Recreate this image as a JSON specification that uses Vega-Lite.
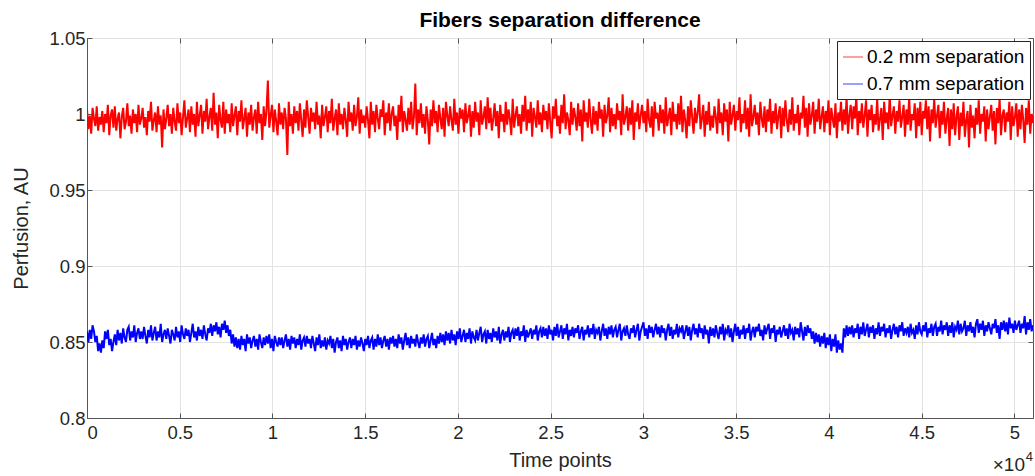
{
"$schema": "https://vega.github.io/schema/vega-lite/v6.json",
"width": 946,
"height": 380,
"autosize": "none",
"padding": {"left": 87, "top": 38, "right": 2, "bottom": 58},
"background": "white",
"config": {
  "view": {"stroke": "#555555", "strokeWidth": 1},
  "font": "Liberation Sans"
},
"title": {"text": "Fibers separation difference", "fontSize": 21, "fontWeight": "bold", "color": "#000000", "font": "Liberation Sans", "anchor": "middle", "baseline": "alphabetic", "offset": -19},
"datasets": {
"series": [
{"t":0,"r":1.003,"b":0.857},{"t":75,"r":0.990,"b":0.850},{"t":150,"r":0.999,"b":0.858},{"t":225,"r":0.987,"b":0.852},{"t":300,"r":1.004,"b":0.861},{"t":375,"r":0.997,"b":0.857},{"t":450,"r":0.992,"b":0.850},{"t":525,"r":1.005,"b":0.854},{"t":600,"r":0.989,"b":0.844},{"t":675,"r":0.998,"b":0.849},
{"t":750,"r":0.993,"b":0.843},{"t":825,"r":1.002,"b":0.851},{"t":900,"r":0.988,"b":0.846},{"t":975,"r":1.000,"b":0.857},{"t":1050,"r":0.994,"b":0.852},{"t":1125,"r":1.006,"b":0.858},{"t":1200,"r":0.986,"b":0.848},{"t":1275,"r":0.999,"b":0.852},{"t":1350,"r":1.003,"b":0.844},{"t":1425,"r":0.991,"b":0.850},
{"t":1500,"r":1.005,"b":0.855},{"t":1575,"r":0.989,"b":0.848},{"t":1650,"r":0.997,"b":0.858},{"t":1725,"r":1.001,"b":0.851},{"t":1800,"r":0.984,"b":0.856},{"t":1875,"r":0.998,"b":0.849},{"t":1950,"r":1.004,"b":0.859},{"t":2025,"r":0.990,"b":0.853},{"t":2100,"r":0.995,"b":0.850},{"t":2175,"r":1.007,"b":0.858},
{"t":2250,"r":0.992,"b":0.860},{"t":2325,"r":0.999,"b":0.851},{"t":2400,"r":0.987,"b":0.857},{"t":2475,"r":1.003,"b":0.853},{"t":2550,"r":0.994,"b":0.861},{"t":2625,"r":1.000,"b":0.850},{"t":2700,"r":0.988,"b":0.856},{"t":2775,"r":1.006,"b":0.859},{"t":2850,"r":0.993,"b":0.852},{"t":2925,"r":0.997,"b":0.857},
{"t":3000,"r":1.004,"b":0.852},{"t":3075,"r":0.991,"b":0.860},{"t":3150,"r":0.998,"b":0.854},{"t":3225,"r":0.986,"b":0.849},{"t":3300,"r":1.002,"b":0.858},{"t":3375,"r":0.995,"b":0.853},{"t":3450,"r":1.008,"b":0.861},{"t":3525,"r":0.989,"b":0.851},{"t":3600,"r":0.996,"b":0.856},{"t":3675,"r":1.001,"b":0.860},
{"t":3750,"r":0.988,"b":0.851},{"t":3825,"r":1.005,"b":0.857},{"t":3900,"r":0.993,"b":0.853},{"t":3975,"r":0.999,"b":0.862},{"t":4050,"r":0.978,"b":0.850},{"t":4125,"r":1.003,"b":0.855},{"t":4200,"r":0.990,"b":0.858},{"t":4275,"r":0.997,"b":0.852},{"t":4350,"r":1.006,"b":0.859},{"t":4425,"r":0.992,"b":0.854},
{"t":4500,"r":1.000,"b":0.849},{"t":4575,"r":0.987,"b":0.858},{"t":4650,"r":1.004,"b":0.855},{"t":4725,"r":0.995,"b":0.851},{"t":4800,"r":0.989,"b":0.860},{"t":4875,"r":1.007,"b":0.853},{"t":4950,"r":0.994,"b":0.857},{"t":5025,"r":1.001,"b":0.850},{"t":5100,"r":0.986,"b":0.861},{"t":5175,"r":0.998,"b":0.855},
{"t":5250,"r":1.009,"b":0.852},{"t":5325,"r":0.991,"b":0.859},{"t":5400,"r":0.997,"b":0.854},{"t":5475,"r":1.003,"b":0.858},{"t":5550,"r":0.988,"b":0.850},{"t":5625,"r":1.005,"b":0.856},{"t":5700,"r":0.993,"b":0.862},{"t":5775,"r":1.000,"b":0.853},{"t":5850,"r":0.985,"b":0.857},{"t":5925,"r":1.008,"b":0.851},
{"t":6000,"r":0.992,"b":0.860},{"t":6075,"r":0.999,"b":0.854},{"t":6150,"r":1.006,"b":0.858},{"t":6225,"r":0.987,"b":0.852},{"t":6300,"r":1.002,"b":0.861},{"t":6375,"r":0.995,"b":0.855},{"t":6450,"r":1.010,"b":0.851},{"t":6525,"r":0.990,"b":0.859},{"t":6600,"r":0.998,"b":0.856},{"t":6675,"r":1.004,"b":0.862},
{"t":6750,"r":0.989,"b":0.854},{"t":6825,"r":1.014,"b":0.861},{"t":6900,"r":0.993,"b":0.857},{"t":6975,"r":1.001,"b":0.863},{"t":7050,"r":0.984,"b":0.855},{"t":7125,"r":1.006,"b":0.860},{"t":7200,"r":0.996,"b":0.853},{"t":7275,"r":0.991,"b":0.862},{"t":7350,"r":1.008,"b":0.858},{"t":7425,"r":0.987,"b":0.864},
{"t":7500,"r":1.003,"b":0.856},{"t":7575,"r":0.994,"b":0.861},{"t":7650,"r":1.000,"b":0.854},{"t":7725,"r":0.988,"b":0.858},{"t":7800,"r":1.007,"b":0.849},{"t":7875,"r":0.992,"b":0.855},{"t":7950,"r":0.999,"b":0.847},{"t":8025,"r":1.005,"b":0.853},{"t":8100,"r":0.986,"b":0.846},{"t":8175,"r":1.002,"b":0.852},
{"t":8250,"r":0.995,"b":0.845},{"t":8325,"r":1.009,"b":0.854},{"t":8400,"r":0.990,"b":0.848},{"t":8475,"r":0.997,"b":0.852},{"t":8550,"r":1.004,"b":0.844},{"t":8625,"r":0.985,"b":0.855},{"t":8700,"r":1.001,"b":0.849},{"t":8775,"r":0.993,"b":0.853},{"t":8850,"r":1.006,"b":0.846},{"t":8925,"r":0.989,"b":0.851},
{"t":9000,"r":0.998,"b":0.854},{"t":9075,"r":1.003,"b":0.847},{"t":9150,"r":0.987,"b":0.852},{"t":9225,"r":1.008,"b":0.845},{"t":9300,"r":0.994,"b":0.855},{"t":9375,"r":1.000,"b":0.850},{"t":9450,"r":0.983,"b":0.846},{"t":9525,"r":1.005,"b":0.853},{"t":9600,"r":0.992,"b":0.848},{"t":9675,"r":1.002,"b":0.854},
{"t":9750,"r":1.022,"b":0.849},{"t":9825,"r":0.991,"b":0.855},{"t":9900,"r":0.999,"b":0.846},{"t":9975,"r":1.006,"b":0.852},{"t":10050,"r":0.988,"b":0.844},{"t":10125,"r":1.003,"b":0.854},{"t":10200,"r":0.995,"b":0.850},{"t":10275,"r":0.986,"b":0.847},{"t":10350,"r":1.007,"b":0.853},{"t":10425,"r":0.993,"b":0.848},
{"t":10500,"r":1.001,"b":0.853},{"t":10575,"r":0.990,"b":0.846},{"t":10650,"r":1.004,"b":0.851},{"t":10725,"r":0.997,"b":0.855},{"t":10800,"r":0.973,"b":0.847},{"t":10875,"r":1.008,"b":0.852},{"t":10950,"r":0.992,"b":0.845},{"t":11025,"r":1.000,"b":0.854},{"t":11100,"r":0.987,"b":0.849},{"t":11175,"r":1.005,"b":0.853},
{"t":11250,"r":0.994,"b":0.846},{"t":11325,"r":1.002,"b":0.852},{"t":11400,"r":0.989,"b":0.848},{"t":11475,"r":1.007,"b":0.855},{"t":11550,"r":0.996,"b":0.845},{"t":11625,"r":0.985,"b":0.851},{"t":11700,"r":1.003,"b":0.853},{"t":11775,"r":0.991,"b":0.847},{"t":11850,"r":1.009,"b":0.854},{"t":11925,"r":0.998,"b":0.849},
{"t":12000,"r":0.987,"b":0.852},{"t":12075,"r":1.004,"b":0.846},{"t":12150,"r":0.995,"b":0.854},{"t":12225,"r":1.001,"b":0.849},{"t":12300,"r":0.990,"b":0.844},{"t":12375,"r":1.008,"b":0.853},{"t":12450,"r":0.993,"b":0.848},{"t":12525,"r":0.999,"b":0.855},{"t":12600,"r":0.984,"b":0.846},{"t":12675,"r":1.006,"b":0.851},
{"t":12750,"r":0.992,"b":0.847},{"t":12825,"r":0.998,"b":0.853},{"t":12900,"r":1.005,"b":0.845},{"t":12975,"r":0.988,"b":0.851},{"t":13050,"r":1.002,"b":0.849},{"t":13125,"r":0.994,"b":0.854},{"t":13200,"r":1.010,"b":0.846},{"t":13275,"r":0.989,"b":0.852},{"t":13350,"r":0.997,"b":0.843},{"t":13425,"r":1.003,"b":0.850},
{"t":13500,"r":0.986,"b":0.853},{"t":13575,"r":1.007,"b":0.846},{"t":13650,"r":0.993,"b":0.851},{"t":13725,"r":1.000,"b":0.844},{"t":13800,"r":0.990,"b":0.854},{"t":13875,"r":1.004,"b":0.848},{"t":13950,"r":0.996,"b":0.852},{"t":14025,"r":0.985,"b":0.845},{"t":14100,"r":1.008,"b":0.850},{"t":14175,"r":0.995,"b":0.853},
{"t":14250,"r":1.001,"b":0.846},{"t":14325,"r":0.989,"b":0.852},{"t":14400,"r":1.006,"b":0.848},{"t":14475,"r":0.992,"b":0.854},{"t":14550,"r":0.998,"b":0.845},{"t":14625,"r":1.011,"b":0.851},{"t":14700,"r":0.987,"b":0.847},{"t":14775,"r":1.003,"b":0.853},{"t":14850,"r":0.994,"b":0.849},{"t":14925,"r":0.999,"b":0.844},
{"t":15000,"r":0.991,"b":0.852},{"t":15075,"r":1.005,"b":0.848},{"t":15150,"r":0.996,"b":0.854},{"t":15225,"r":0.984,"b":0.846},{"t":15300,"r":1.008,"b":0.851},{"t":15375,"r":0.993,"b":0.853},{"t":15450,"r":1.002,"b":0.845},{"t":15525,"r":0.988,"b":0.852},{"t":15600,"r":1.006,"b":0.847},{"t":15675,"r":0.997,"b":0.855},
{"t":15750,"r":0.990,"b":0.848},{"t":15825,"r":1.003,"b":0.853},{"t":15900,"r":0.998,"b":0.846},{"t":15975,"r":1.009,"b":0.851},{"t":16050,"r":0.986,"b":0.854},{"t":16125,"r":1.001,"b":0.847},{"t":16200,"r":0.994,"b":0.852},{"t":16275,"r":1.007,"b":0.845},{"t":16350,"r":0.989,"b":0.853},{"t":16425,"r":1.000,"b":0.849},
{"t":16500,"r":1.005,"b":0.854},{"t":16575,"r":0.992,"b":0.847},{"t":16650,"r":0.999,"b":0.852},{"t":16725,"r":0.983,"b":0.846},{"t":16800,"r":1.006,"b":0.855},{"t":16875,"r":0.995,"b":0.849},{"t":16950,"r":1.012,"b":0.853},{"t":17025,"r":0.988,"b":0.845},{"t":17100,"r":1.002,"b":0.851},{"t":17175,"r":0.996,"b":0.856},
{"t":17250,"r":0.989,"b":0.848},{"t":17325,"r":1.004,"b":0.853},{"t":17400,"r":0.993,"b":0.846},{"t":17475,"r":1.008,"b":0.854},{"t":17550,"r":0.990,"b":0.849},{"t":17625,"r":0.998,"b":0.852},{"t":17700,"r":1.020,"b":0.847},{"t":17775,"r":0.986,"b":0.855},{"t":17850,"r":1.003,"b":0.850},{"t":17925,"r":0.994,"b":0.846},
{"t":18000,"r":1.007,"b":0.853},{"t":18075,"r":0.991,"b":0.849},{"t":18150,"r":1.000,"b":0.855},{"t":18225,"r":0.987,"b":0.847},{"t":18300,"r":1.005,"b":0.852},{"t":18375,"r":0.996,"b":0.854},{"t":18450,"r":0.980,"b":0.846},{"t":18525,"r":1.003,"b":0.851},{"t":18600,"r":0.992,"b":0.856},{"t":18675,"r":1.009,"b":0.848},
{"t":18750,"r":0.994,"b":0.852},{"t":18825,"r":1.002,"b":0.846},{"t":18900,"r":0.988,"b":0.854},{"t":18975,"r":1.006,"b":0.849},{"t":19050,"r":0.997,"b":0.856},{"t":19125,"r":0.990,"b":0.850},{"t":19200,"r":1.004,"b":0.855},{"t":19275,"r":0.985,"b":0.848},{"t":19350,"r":1.008,"b":0.857},{"t":19425,"r":0.999,"b":0.851},
{"t":19500,"r":0.992,"b":0.856},{"t":19575,"r":1.005,"b":0.849},{"t":19650,"r":0.996,"b":0.858},{"t":19725,"r":0.989,"b":0.851},{"t":19800,"r":1.010,"b":0.855},{"t":19875,"r":0.993,"b":0.848},{"t":19950,"r":1.001,"b":0.857},{"t":20025,"r":0.987,"b":0.852},{"t":20100,"r":1.004,"b":0.859},{"t":20175,"r":0.997,"b":0.850},
{"t":20250,"r":1.003,"b":0.854},{"t":20325,"r":0.988,"b":0.858},{"t":20400,"r":1.007,"b":0.850},{"t":20475,"r":0.994,"b":0.856},{"t":20550,"r":0.999,"b":0.852},{"t":20625,"r":1.006,"b":0.859},{"t":20700,"r":0.985,"b":0.849},{"t":20775,"r":1.002,"b":0.857},{"t":20850,"r":0.991,"b":0.853},{"t":20925,"r":1.008,"b":0.851},
{"t":21000,"r":0.995,"b":0.858},{"t":21075,"r":1.001,"b":0.851},{"t":21150,"r":0.986,"b":0.856},{"t":21225,"r":1.009,"b":0.860},{"t":21300,"r":0.993,"b":0.850},{"t":21375,"r":0.998,"b":0.855},{"t":21450,"r":1.005,"b":0.857},{"t":21525,"r":0.990,"b":0.849},{"t":21600,"r":1.011,"b":0.858},{"t":21675,"r":0.994,"b":0.852},
{"t":21750,"r":1.004,"b":0.856},{"t":21825,"r":0.989,"b":0.850},{"t":21900,"r":0.997,"b":0.859},{"t":21975,"r":1.007,"b":0.853},{"t":22050,"r":0.992,"b":0.857},{"t":22125,"r":1.002,"b":0.851},{"t":22200,"r":0.984,"b":0.860},{"t":22275,"r":1.006,"b":0.849},{"t":22350,"r":0.995,"b":0.855},{"t":22425,"r":1.000,"b":0.858},
{"t":22500,"r":0.988,"b":0.851},{"t":22575,"r":1.008,"b":0.857},{"t":22650,"r":0.993,"b":0.853},{"t":22725,"r":1.003,"b":0.860},{"t":22800,"r":0.997,"b":0.850},{"t":22875,"r":0.986,"b":0.856},{"t":22950,"r":1.010,"b":0.858},{"t":23025,"r":0.991,"b":0.852},{"t":23100,"r":0.999,"b":0.859},{"t":23175,"r":1.005,"b":0.854},
{"t":23250,"r":0.992,"b":0.860},{"t":23325,"r":1.000,"b":0.851},{"t":23400,"r":0.987,"b":0.857},{"t":23475,"r":1.006,"b":0.854},{"t":23550,"r":0.995,"b":0.861},{"t":23625,"r":1.012,"b":0.850},{"t":23700,"r":0.989,"b":0.858},{"t":23775,"r":1.003,"b":0.853},{"t":23850,"r":0.994,"b":0.856},{"t":23925,"r":1.008,"b":0.859},
{"t":24000,"r":0.985,"b":0.852},{"t":24075,"r":1.004,"b":0.858},{"t":24150,"r":0.998,"b":0.855},{"t":24225,"r":0.991,"b":0.861},{"t":24300,"r":1.009,"b":0.851},{"t":24375,"r":0.993,"b":0.857},{"t":24450,"r":1.001,"b":0.859},{"t":24525,"r":0.988,"b":0.853},{"t":24600,"r":1.006,"b":0.860},{"t":24675,"r":0.996,"b":0.854},
{"t":24750,"r":1.002,"b":0.859},{"t":24825,"r":0.990,"b":0.852},{"t":24900,"r":1.007,"b":0.861},{"t":24975,"r":0.995,"b":0.855},{"t":25050,"r":0.984,"b":0.858},{"t":25125,"r":1.005,"b":0.851},{"t":25200,"r":0.997,"b":0.860},{"t":25275,"r":1.010,"b":0.854},{"t":25350,"r":0.992,"b":0.862},{"t":25425,"r":0.999,"b":0.853},
{"t":25500,"r":0.987,"b":0.857},{"t":25575,"r":1.006,"b":0.861},{"t":25650,"r":0.994,"b":0.852},{"t":25725,"r":1.013,"b":0.859},{"t":25800,"r":0.990,"b":0.855},{"t":25875,"r":1.001,"b":0.862},{"t":25950,"r":0.996,"b":0.851},{"t":26025,"r":0.986,"b":0.858},{"t":26100,"r":1.008,"b":0.854},{"t":26175,"r":0.993,"b":0.860},
{"t":26250,"r":1.004,"b":0.853},{"t":26325,"r":0.998,"b":0.859},{"t":26400,"r":0.989,"b":0.856},{"t":26475,"r":1.007,"b":0.861},{"t":26550,"r":0.992,"b":0.852},{"t":26625,"r":1.003,"b":0.857},{"t":26700,"r":0.982,"b":0.860},{"t":26775,"r":1.009,"b":0.851},{"t":26850,"r":0.995,"b":0.858},{"t":26925,"r":1.001,"b":0.855},
{"t":27000,"r":0.991,"b":0.861},{"t":27075,"r":1.010,"b":0.853},{"t":27150,"r":0.996,"b":0.859},{"t":27225,"r":0.987,"b":0.855},{"t":27300,"r":1.005,"b":0.862},{"t":27375,"r":0.993,"b":0.852},{"t":27450,"r":1.002,"b":0.858},{"t":27525,"r":0.989,"b":0.856},{"t":27600,"r":1.008,"b":0.860},{"t":27675,"r":0.997,"b":0.851},
{"t":27750,"r":1.003,"b":0.857},{"t":27825,"r":0.985,"b":0.862},{"t":27900,"r":1.006,"b":0.854},{"t":27975,"r":0.994,"b":0.859},{"t":28050,"r":0.999,"b":0.852},{"t":28125,"r":1.011,"b":0.860},{"t":28200,"r":0.988,"b":0.855},{"t":28275,"r":1.004,"b":0.861},{"t":28350,"r":0.992,"b":0.853},{"t":28425,"r":1.000,"b":0.858},
{"t":28500,"r":0.990,"b":0.860},{"t":28575,"r":1.007,"b":0.853},{"t":28650,"r":0.996,"b":0.858},{"t":28725,"r":1.002,"b":0.862},{"t":28800,"r":0.986,"b":0.851},{"t":28875,"r":1.013,"b":0.857},{"t":28950,"r":0.993,"b":0.859},{"t":29025,"r":0.998,"b":0.854},{"t":29100,"r":1.005,"b":0.861},{"t":29175,"r":0.989,"b":0.855},
{"t":29250,"r":1.004,"b":0.852},{"t":29325,"r":0.993,"b":0.859},{"t":29400,"r":1.009,"b":0.856},{"t":29475,"r":0.983,"b":0.861},{"t":29550,"r":1.001,"b":0.853},{"t":29625,"r":0.995,"b":0.858},{"t":29700,"r":1.007,"b":0.862},{"t":29775,"r":0.990,"b":0.851},{"t":29850,"r":0.999,"b":0.857},{"t":29925,"r":1.006,"b":0.860},
{"t":30000,"r":0.994,"b":0.863},{"t":30075,"r":1.002,"b":0.854},{"t":30150,"r":0.988,"b":0.859},{"t":30225,"r":1.010,"b":0.852},{"t":30300,"r":0.996,"b":0.861},{"t":30375,"r":0.991,"b":0.856},{"t":30450,"r":1.005,"b":0.860},{"t":30525,"r":0.985,"b":0.853},{"t":30600,"r":1.008,"b":0.858},{"t":30675,"r":0.997,"b":0.862},
{"t":30750,"r":1.001,"b":0.855},{"t":30825,"r":0.989,"b":0.860},{"t":30900,"r":1.006,"b":0.853},{"t":30975,"r":0.994,"b":0.861},{"t":31050,"r":1.003,"b":0.856},{"t":31125,"r":0.987,"b":0.859},{"t":31200,"r":1.011,"b":0.851},{"t":31275,"r":0.992,"b":0.858},{"t":31350,"r":0.998,"b":0.862},{"t":31425,"r":1.004,"b":0.854},
{"t":31500,"r":0.986,"b":0.860},{"t":31575,"r":1.008,"b":0.852},{"t":31650,"r":0.995,"b":0.858},{"t":31725,"r":1.000,"b":0.855},{"t":31800,"r":0.990,"b":0.862},{"t":31875,"r":1.007,"b":0.853},{"t":31950,"r":0.993,"b":0.859},{"t":32025,"r":1.012,"b":0.857},{"t":32100,"r":0.988,"b":0.861},{"t":32175,"r":1.003,"b":0.852},
{"t":32250,"r":0.996,"b":0.857},{"t":32325,"r":0.984,"b":0.861},{"t":32400,"r":1.005,"b":0.854},{"t":32475,"r":0.992,"b":0.860},{"t":32550,"r":1.009,"b":0.851},{"t":32625,"r":0.998,"b":0.858},{"t":32700,"r":0.987,"b":0.862},{"t":32775,"r":1.004,"b":0.855},{"t":32850,"r":0.994,"b":0.859},{"t":32925,"r":1.001,"b":0.853},
{"t":33000,"r":1.013,"b":0.862},{"t":33075,"r":0.990,"b":0.856},{"t":33150,"r":0.997,"b":0.859},{"t":33225,"r":1.006,"b":0.852},{"t":33300,"r":0.985,"b":0.861},{"t":33375,"r":1.002,"b":0.855},{"t":33450,"r":0.993,"b":0.858},{"t":33525,"r":1.008,"b":0.849},{"t":33600,"r":0.989,"b":0.860},{"t":33675,"r":0.999,"b":0.854},
{"t":33750,"r":0.991,"b":0.859},{"t":33825,"r":1.005,"b":0.853},{"t":33900,"r":0.998,"b":0.861},{"t":33975,"r":0.987,"b":0.856},{"t":34050,"r":1.010,"b":0.852},{"t":34125,"r":0.994,"b":0.860},{"t":34200,"r":1.001,"b":0.855},{"t":34275,"r":0.986,"b":0.862},{"t":34350,"r":1.007,"b":0.851},{"t":34425,"r":0.995,"b":0.858},
{"t":34500,"r":1.003,"b":0.856},{"t":34575,"r":0.982,"b":0.861},{"t":34650,"r":1.008,"b":0.853},{"t":34725,"r":0.993,"b":0.859},{"t":34800,"r":0.999,"b":0.850},{"t":34875,"r":1.006,"b":0.857},{"t":34950,"r":0.989,"b":0.862},{"t":35025,"r":1.002,"b":0.854},{"t":35100,"r":0.996,"b":0.860},{"t":35175,"r":1.011,"b":0.852},
{"t":35250,"r":0.988,"b":0.858},{"t":35325,"r":1.000,"b":0.855},{"t":35400,"r":0.994,"b":0.861},{"t":35475,"r":1.009,"b":0.852},{"t":35550,"r":0.990,"b":0.859},{"t":35625,"r":1.004,"b":0.856},{"t":35700,"r":0.985,"b":0.862},{"t":35775,"r":1.013,"b":0.851},{"t":35850,"r":0.992,"b":0.857},{"t":35925,"r":0.998,"b":0.860},
{"t":36000,"r":1.006,"b":0.853},{"t":36075,"r":0.993,"b":0.860},{"t":36150,"r":1.001,"b":0.857},{"t":36225,"r":0.986,"b":0.862},{"t":36300,"r":1.008,"b":0.854},{"t":36375,"r":0.997,"b":0.858},{"t":36450,"r":0.991,"b":0.851},{"t":36525,"r":1.005,"b":0.861},{"t":36600,"r":0.988,"b":0.855},{"t":36675,"r":1.003,"b":0.859},
{"t":36750,"r":0.995,"b":0.862},{"t":36825,"r":1.010,"b":0.852},{"t":36900,"r":0.987,"b":0.859},{"t":36975,"r":1.002,"b":0.856},{"t":37050,"r":0.994,"b":0.861},{"t":37125,"r":1.007,"b":0.850},{"t":37200,"r":0.990,"b":0.858},{"t":37275,"r":0.999,"b":0.855},{"t":37350,"r":1.005,"b":0.860},{"t":37425,"r":0.984,"b":0.853},
{"t":37500,"r":1.004,"b":0.857},{"t":37575,"r":0.992,"b":0.861},{"t":37650,"r":1.009,"b":0.854},{"t":37725,"r":0.996,"b":0.859},{"t":37800,"r":0.988,"b":0.852},{"t":37875,"r":1.003,"b":0.862},{"t":37950,"r":0.993,"b":0.856},{"t":38025,"r":1.011,"b":0.858},{"t":38100,"r":0.989,"b":0.851},{"t":38175,"r":1.000,"b":0.860},
{"t":38250,"r":0.994,"b":0.855},{"t":38325,"r":1.006,"b":0.859},{"t":38400,"r":0.986,"b":0.853},{"t":38475,"r":1.001,"b":0.863},{"t":38550,"r":0.997,"b":0.857},{"t":38625,"r":1.012,"b":0.851},{"t":38700,"r":0.991,"b":0.860},{"t":38775,"r":1.004,"b":0.854},{"t":38850,"r":0.985,"b":0.861},{"t":38925,"r":1.007,"b":0.856},
{"t":39000,"r":0.993,"b":0.859},{"t":39075,"r":0.999,"b":0.852},{"t":39150,"r":1.008,"b":0.857},{"t":39225,"r":0.987,"b":0.849},{"t":39300,"r":1.003,"b":0.856},{"t":39375,"r":0.995,"b":0.850},{"t":39450,"r":1.010,"b":0.855},{"t":39525,"r":0.990,"b":0.847},{"t":39600,"r":0.998,"b":0.854},{"t":39675,"r":1.005,"b":0.849},
{"t":39750,"r":0.988,"b":0.856},{"t":39825,"r":1.002,"b":0.846},{"t":39900,"r":0.994,"b":0.853},{"t":39975,"r":1.009,"b":0.848},{"t":40050,"r":0.986,"b":0.855},{"t":40125,"r":1.004,"b":0.844},{"t":40200,"r":0.997,"b":0.852},{"t":40275,"r":0.991,"b":0.847},{"t":40350,"r":1.007,"b":0.855},{"t":40425,"r":0.984,"b":0.843},
{"t":40500,"r":1.001,"b":0.851},{"t":40575,"r":0.995,"b":0.845},{"t":40650,"r":1.008,"b":0.849},{"t":40725,"r":0.989,"b":0.843},{"t":40800,"r":1.003,"b":0.859},{"t":40875,"r":0.993,"b":0.853},{"t":40950,"r":1.011,"b":0.861},{"t":41025,"r":0.987,"b":0.854},{"t":41100,"r":0.999,"b":0.860},{"t":41175,"r":1.006,"b":0.855},
{"t":41250,"r":0.990,"b":0.861},{"t":41325,"r":1.005,"b":0.853},{"t":41400,"r":0.997,"b":0.859},{"t":41475,"r":1.012,"b":0.856},{"t":41550,"r":0.986,"b":0.862},{"t":41625,"r":1.002,"b":0.852},{"t":41700,"r":0.994,"b":0.860},{"t":41775,"r":1.007,"b":0.855},{"t":41850,"r":0.991,"b":0.863},{"t":41925,"r":0.999,"b":0.854},
{"t":42000,"r":1.009,"b":0.858},{"t":42075,"r":0.985,"b":0.862},{"t":42150,"r":1.003,"b":0.853},{"t":42225,"r":0.996,"b":0.860},{"t":42300,"r":1.006,"b":0.856},{"t":42375,"r":0.988,"b":0.861},{"t":42450,"r":1.000,"b":0.852},{"t":42525,"r":0.993,"b":0.859},{"t":42600,"r":1.010,"b":0.855},{"t":42675,"r":0.989,"b":0.863},
{"t":42750,"r":0.997,"b":0.854},{"t":42825,"r":1.004,"b":0.860},{"t":42900,"r":0.983,"b":0.857},{"t":42975,"r":1.008,"b":0.862},{"t":43050,"r":0.994,"b":0.853},{"t":43125,"r":1.001,"b":0.859},{"t":43200,"r":0.990,"b":0.856},{"t":43275,"r":1.013,"b":0.861},{"t":43350,"r":0.992,"b":0.852},{"t":43425,"r":0.999,"b":0.858},
{"t":43500,"r":1.005,"b":0.862},{"t":43575,"r":0.987,"b":0.855},{"t":43650,"r":1.002,"b":0.860},{"t":43725,"r":0.995,"b":0.853},{"t":43800,"r":1.009,"b":0.861},{"t":43875,"r":0.991,"b":0.857},{"t":43950,"r":0.998,"b":0.863},{"t":44025,"r":1.006,"b":0.854},{"t":44100,"r":0.985,"b":0.859},{"t":44175,"r":1.003,"b":0.856},
{"t":44250,"r":0.993,"b":0.860},{"t":44325,"r":1.011,"b":0.853},{"t":44400,"r":0.989,"b":0.862},{"t":44475,"r":1.000,"b":0.856},{"t":44550,"r":0.996,"b":0.858},{"t":44625,"r":1.007,"b":0.852},{"t":44700,"r":0.984,"b":0.861},{"t":44775,"r":1.004,"b":0.855},{"t":44850,"r":0.992,"b":0.863},{"t":44925,"r":1.008,"b":0.857},
{"t":45000,"r":0.986,"b":0.855},{"t":45075,"r":1.002,"b":0.861},{"t":45150,"r":0.997,"b":0.857},{"t":45225,"r":1.009,"b":0.863},{"t":45300,"r":0.990,"b":0.853},{"t":45375,"r":1.005,"b":0.859},{"t":45450,"r":0.982,"b":0.856},{"t":45525,"r":1.003,"b":0.862},{"t":45600,"r":0.994,"b":0.854},{"t":45675,"r":1.010,"b":0.860},
{"t":45750,"r":0.991,"b":0.862},{"t":45825,"r":0.999,"b":0.854},{"t":45900,"r":1.006,"b":0.860},{"t":45975,"r":0.984,"b":0.857},{"t":46050,"r":1.002,"b":0.864},{"t":46125,"r":0.993,"b":0.855},{"t":46200,"r":1.008,"b":0.861},{"t":46275,"r":0.987,"b":0.858},{"t":46350,"r":0.997,"b":0.863},{"t":46425,"r":1.004,"b":0.854},
{"t":46500,"r":0.979,"b":0.861},{"t":46575,"r":1.003,"b":0.856},{"t":46650,"r":0.990,"b":0.863},{"t":46725,"r":1.007,"b":0.853},{"t":46800,"r":0.986,"b":0.860},{"t":46875,"r":0.998,"b":0.858},{"t":46950,"r":1.005,"b":0.864},{"t":47025,"r":0.983,"b":0.855},{"t":47100,"r":1.001,"b":0.862},{"t":47175,"r":0.992,"b":0.857},
{"t":47250,"r":1.008,"b":0.859},{"t":47325,"r":0.985,"b":0.864},{"t":47400,"r":0.996,"b":0.854},{"t":47475,"r":1.002,"b":0.861},{"t":47550,"r":0.978,"b":0.857},{"t":47625,"r":1.006,"b":0.863},{"t":47700,"r":0.991,"b":0.856},{"t":47775,"r":0.999,"b":0.860},{"t":47850,"r":0.984,"b":0.853},{"t":47925,"r":1.004,"b":0.862},
{"t":48000,"r":0.993,"b":0.865},{"t":48075,"r":1.009,"b":0.856},{"t":48150,"r":0.987,"b":0.862},{"t":48225,"r":1.000,"b":0.858},{"t":48300,"r":0.995,"b":0.864},{"t":48375,"r":1.005,"b":0.854},{"t":48450,"r":0.982,"b":0.861},{"t":48525,"r":1.003,"b":0.857},{"t":48600,"r":0.990,"b":0.863},{"t":48675,"r":0.998,"b":0.859},
{"t":48750,"r":1.006,"b":0.855},{"t":48825,"r":0.989,"b":0.862},{"t":48900,"r":1.002,"b":0.859},{"t":48975,"r":0.980,"b":0.865},{"t":49050,"r":1.004,"b":0.856},{"t":49125,"r":0.994,"b":0.861},{"t":49200,"r":1.010,"b":0.852},{"t":49275,"r":0.986,"b":0.863},{"t":49350,"r":0.999,"b":0.858},{"t":49425,"r":1.003,"b":0.864},
{"t":49500,"r":0.988,"b":0.857},{"t":49575,"r":1.001,"b":0.863},{"t":49650,"r":0.995,"b":0.855},{"t":49725,"r":1.008,"b":0.866},{"t":49800,"r":0.983,"b":0.859},{"t":49875,"r":1.005,"b":0.862},{"t":49950,"r":0.992,"b":0.856},{"t":50025,"r":0.998,"b":0.864},{"t":50100,"r":1.007,"b":0.858},{"t":50175,"r":0.985,"b":0.861},
{"t":50250,"r":1.003,"b":0.864},{"t":50325,"r":0.990,"b":0.856},{"t":50400,"r":1.006,"b":0.862},{"t":50475,"r":0.996,"b":0.859},{"t":50550,"r":0.981,"b":0.867},{"t":50625,"r":1.004,"b":0.855},{"t":50700,"r":0.993,"b":0.863},{"t":50775,"r":1.009,"b":0.858},{"t":50850,"r":0.987,"b":0.865},{"t":50925,"r":1.000,"b":0.857},
{"t":51000,"r":0.994,"b":0.861}
]
},
"layer": [
{
  "data": {"name": "series"},
  "transform": [{"fold": ["r", "b"], "as": ["s", "v"]}],
  "mark": {"type": "line", "strokeWidth": 2, "clip": true},
  "encoding": {
    "x": {"field": "t", "type": "quantitative",
      "scale": {"domain": [0, 51000], "nice": false, "zero": false},
      "axis": {"orient": "bottom", "values": [0,5000,10000,15000,20000,25000,30000,35000,40000,45000,50000],
        "labelExpr": "format(datum.value/10000, '~g')", "labelFontSize": 18.5, "labelColor": "#262626", "labelFont": "Liberation Sans",
        "labelPadding": 10, "tickSize": -5, "tickColor": "#555555", "domainColor": "#555555",
        "grid": true, "gridColor": "#e3e3e3", "gridWidth": 1,
        "title": "Time points", "titleFontSize": 20, "titleFontWeight": "normal", "titleColor": "#262626", "titleFont": "Liberation Sans", "titlePadding": 9}},
    "y": {"field": "v", "type": "quantitative",
      "scale": {"domain": [0.8, 1.05], "nice": false, "zero": false},
      "axis": {"orient": "left", "values": [0.8,0.85,0.9,0.95,1,1.05], "format": "~g",
        "labelFontSize": 18.5, "labelColor": "#262626", "labelFont": "Liberation Sans",
        "labelPadding": 7, "tickSize": -5, "tickColor": "#555555", "domainColor": "#555555",
        "grid": true, "gridColor": "#e3e3e3", "gridWidth": 1,
        "title": "Perfusion, AU", "titleFontSize": 20, "titleFontWeight": "normal", "titleColor": "#262626", "titleFont": "Liberation Sans", "titlePadding": 17}},
    "color": {"field": "s", "type": "nominal",
      "scale": {"domain": ["r", "b"], "range": ["#ff0000", "#0000ff"]},
      "legend": {"orient": "top-right", "offset": 3, "title": null,
        "labelExpr": "datum.value == 'r' ? '0.2 mm separation' : '0.7 mm separation'",
        "labelFontSize": 19, "labelColor": "#000000", "labelFont": "Liberation Sans", "labelLimit": 300, "labelOffset": 3,
        "symbolType": "stroke", "symbolSize": 400, "symbolStrokeWidth": 1.5, "symbolOpacity": 0.5,
        "strokeColor": "#262626", "fillColor": "#ffffff", "padding": 5, "rowPadding": 6, "cornerRadius": 0}}
  }
},
{
  "data": {"values": [{"x": 51000, "y": 0.8}]},
  "mark": {"type": "text", "text": "×10", "align": "right", "baseline": "alphabetic", "dx": -8, "dy": 53, "fontSize": 19, "font": "Liberation Sans", "color": "#262626", "clip": false},
  "encoding": {
    "x": {"field": "x", "type": "quantitative", "axis": {"orient": "top", "values": [0,5000,10000,15000,20000,25000,30000,35000,40000,45000,50000], "labels": false, "grid": false, "domain": false, "tickSize": -5, "tickColor": "#555555", "title": null}},
    "y": {"field": "y", "type": "quantitative", "axis": {"orient": "right", "values": [0.8,0.85,0.9,0.95,1,1.05], "labels": false, "grid": false, "domain": false, "tickSize": -5, "tickColor": "#555555", "title": null}}
  }
},
{
  "data": {"values": [{"x": 51000, "y": 0.8}]},
  "mark": {"type": "text", "text": "4", "align": "right", "baseline": "alphabetic", "dx": 0, "dy": 43, "fontSize": 13, "font": "Liberation Sans", "color": "#262626", "clip": false},
  "encoding": {
    "x": {"field": "x", "type": "quantitative", "axis": null},
    "y": {"field": "y", "type": "quantitative", "axis": null}
  }
}
],
"resolve": {"axis": {"x": "independent", "y": "independent"}}
}
